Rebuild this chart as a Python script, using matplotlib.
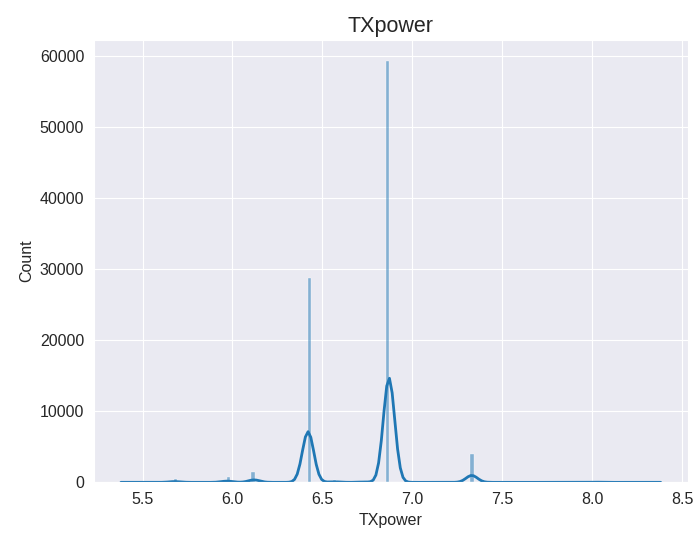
import numpy as np
import pandas as pd
import matplotlib
matplotlib.use("Agg")
import matplotlib.pyplot as plt
import seaborn as sns

# distinct TXpower levels and how often each one occurs
levels = [5.38, 5.68, 5.97, 6.12, 6.42, 6.57, 6.73, 6.87, 7.33, 8.02, 8.38]
counts = [20, 450, 700, 1400, 28800, 300, 200, 59300, 3950, 100, 20]

df = pd.DataFrame({"TXpower": np.repeat(levels, counts)})

sns.set_style("darkgrid")
plt.rcParams['font.family'] = ['Liberation Sans', 'DejaVu Sans']

fig, ax = plt.subplots(figsize=(6.96, 5.33), dpi=100)
sns.histplot(data=df, x="TXpower", kde=True, ax=ax,
             kde_kws={"bw_adjust": 1.15}, line_kws={"linewidth": 2})
ax.set_title("TXpower", fontsize=15.5, color="#262626")
ax.tick_params(labelsize=11.5)
ax.set_xlabel("TXpower", fontsize=11.5)
ax.set_ylabel("Count", fontsize=11.5)
fig.subplots_adjust(left=0.135, right=0.988, top=0.925, bottom=0.095)
fig.savefig("out.png", dpi=100)
